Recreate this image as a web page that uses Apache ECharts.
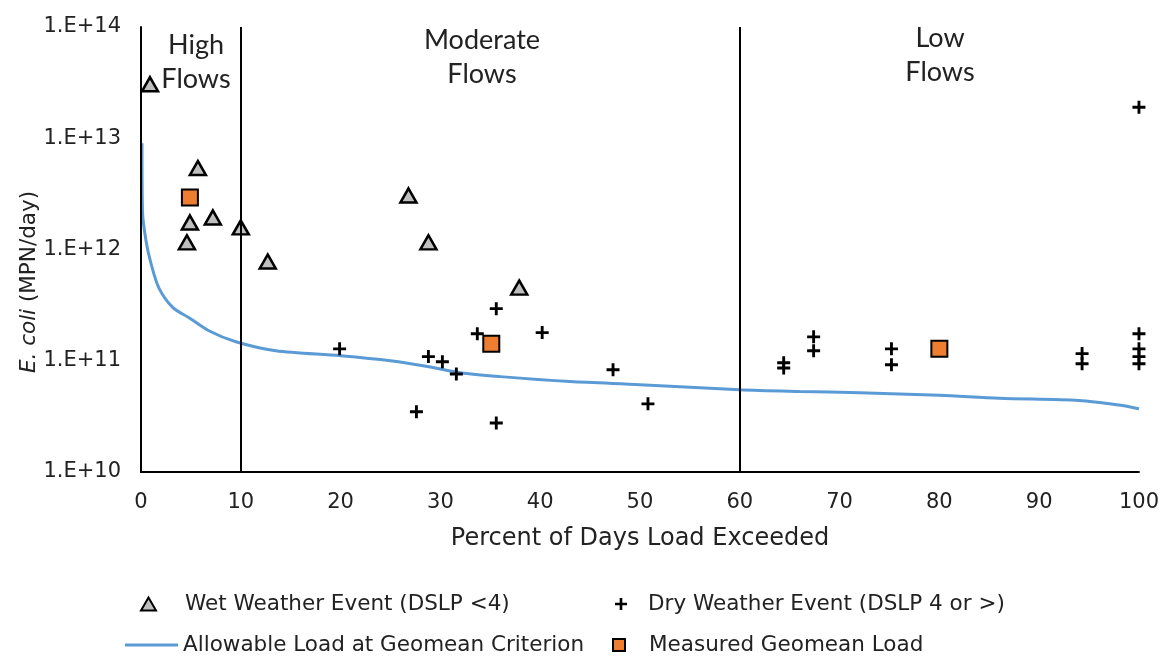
<!DOCTYPE html>
<html lang="en">
  <head>
    <meta charset="utf-8" />
    <title>E. coli load duration curve</title>
    <script src="https://cdn.jsdelivr.net/npm/echarts@6/dist/echarts.min.js"></script>
    <style>
      html, body { margin: 0; padding: 0; background: #fff; }
      #main { width: 1162px; height: 660px; }
    </style>
  </head>
  <body>
    <div id="main"></div>
  </body>
  <script>
    // percent of days exceeded / load in MPN per day
    const wetX = [0.9, 4.6, 4.9, 5.7, 7.2, 10.0, 12.7, 26.8, 28.8, 37.9];
    const wetY = [3.06e13, 1.16e12, 1.75e12, 5.4e12, 1.94e12, 1.58e12, 7.8e11, 3.06e12, 1.16e12, 4.55e11];

    const dryX = [19.9, 27.6, 28.8, 30.2, 31.6, 33.7, 35.6, 35.6, 40.2, 47.3, 50.8, 64.4, 64.4,
                  67.4, 67.4, 75.2, 75.2, 94.3, 94.3, 100, 100, 100, 100, 100];
    const dryY = [1.28e11, 3.48e10, 1.09e11, 9.8e10, 7.6e10, 1.75e11, 2.94e11, 2.76e10, 1.79e11, 8.3e10, 4.1e10, 9.6e10, 8.6e10,
                  1.64e11, 1.23e11, 1.28e11, 9.2e10, 1.16e11, 9.4e10, 1.9e13, 1.75e11, 1.28e11, 1.09e11, 9.4e10];

    const geoX = [4.9, 35.1, 80.0];
    const geoY = [2.94e12, 1.42e11, 1.28e11];

    const allowX = [0.1, 0.15, 0.5, 1.0, 1.8, 3.2, 4.8, 6.8, 9.5, 13.5, 20, 25, 29, 32, 36, 43, 50, 60, 66, 72, 80, 86, 94, 98, 100];
    const allowY = [9.0e12, 2.2e12, 1.2e12, 7.5e11, 4.5e11, 3.0e11, 2.44e11, 1.86e11, 1.48e11, 1.23e11, 1.11e11, 1.0e11, 8.8e10,
                    7.8e10, 7.2e10, 6.5e10, 6.1e10, 5.5e10, 5.3e10, 5.15e10, 4.9e10, 4.6e10, 4.4e10, 4.0e10, 3.7e10];

    const flowBreaks = [0, 10, 60];

    const pairs = (xs, ys) => xs.map((x, i) => [x, ys[i]]);
    const plusPath = 'path://M3.9,0H6.1V3.9H10V6.1H6.1V10H3.9V6.1H0V3.9H3.9Z';
    const axisFont = 'DejaVu Sans, Liberation Sans, sans-serif';
    const noteFont = 'Lato, Open Sans, sans-serif';
    const ink = '#222';

    const legendText = pad => ({
      fontFamily: axisFont, fontSize: 21.5, color: ink, lineHeight: 24, padding: [0, 0, 0, pad]
    });
    const note = (x, y, text) => ({
      type: 'text', x: x, y: y, silent: true,
      style: { text: text, fontFamily: noteFont, fontSize: 27, lineHeight: 34, fill: ink, align: 'center', verticalAlign: 'middle' }
    });

    let chart = echarts.init(document.getElementById('main'));

    let option = {
      animation: false,
      backgroundColor: '#fff',
      grid: { left: 141, right: 21, top: 27, bottom: 188 },
      xAxis: {
        type: 'value',
        min: 0, max: 100, interval: 10,
        name: 'Percent of Days Load Exceeded',
        nameLocation: 'middle',
        nameGap: 55,
        nameTextStyle: { fontFamily: axisFont, fontSize: 24, color: ink },
        axisLine: { show: true, lineStyle: { color: '#000', width: 2 } },
        axisTick: { show: false },
        splitLine: { show: false },
        axisLabel: { fontFamily: axisFont, fontSize: 21, color: ink, margin: 20 }
      },
      yAxis: {
        type: 'log',
        logBase: 10,
        min: 1e10, max: 1e14,
        axisLine: { show: true, lineStyle: { color: '#000', width: 2 } },
        axisTick: { show: false },
        splitLine: { show: false },
        axisLabel: {
          fontFamily: axisFont, fontSize: 21, color: ink, margin: 20,
          formatter: v => '1.E+' + Math.round(Math.log10(v))
        }
      },
      legend: [
        {
          left: 135, top: 587, itemWidth: 15, itemHeight: 13,
          textStyle: legendText(24),
          data: ['Wet Weather Event (DSLP <4)']
        },
        {
          left: 610, top: 587, itemWidth: 12, itemHeight: 12,
          textStyle: legendText(16),
          data: ['Dry Weather Event (DSLP 4 or >)']
        },
        {
          left: 120, top: 628, itemWidth: 53, itemHeight: 3,
          textStyle: legendText(0),
          data: [{ name: 'Allowable Load at Geomean Criterion', icon: 'rect' }]
        },
        {
          left: 607, top: 628, itemWidth: 12, itemHeight: 12,
          textStyle: legendText(19),
          data: ['Measured Geomean Load']
        }
      ],
      graphic: [
        note(196, 62, 'High\nFlows'),
        note(482, 57, 'Moderate\nFlows'),
        note(940, 55, 'Low\nFlows'),
        {
          type: 'text', x: 29, y: 282, rotation: Math.PI / 2, silent: true,
          style: {
            text: '{i|E. coli} (MPN/day)',
            fontFamily: axisFont, fontSize: 21.5, fill: ink, align: 'center', verticalAlign: 'middle',
            rich: { i: { fontStyle: 'italic', fontFamily: axisFont, fontSize: 21.5, fill: ink } }
          }
        }
      ],
      series: [
        {
          name: 'Allowable Load at Geomean Criterion',
          type: 'line',
          data: pairs(allowX, allowY),
          symbol: 'none',
          smooth: 0.3,
          z: 2,
          lineStyle: { color: '#5B9BD5', width: 3 },
          itemStyle: { color: '#5B9BD5' },
          markLine: {
            silent: true,
            symbol: 'none',
            label: { show: false },
            lineStyle: { color: '#000', width: 2, type: 'solid' },
            data: flowBreaks.map(x => ({ xAxis: x }))
          }
        },
        {
          name: 'Wet Weather Event (DSLP <4)',
          type: 'scatter',
          data: pairs(wetX, wetY),
          symbol: 'triangle',
          symbolSize: [16, 14],
          z: 4,
          itemStyle: { color: '#BFBFBF', borderColor: '#000', borderWidth: 2.5, opacity: 1 }
        },
        {
          name: 'Dry Weather Event (DSLP 4 or >)',
          type: 'scatter',
          data: pairs(dryX, dryY),
          symbol: plusPath,
          symbolSize: 13,
          z: 4,
          itemStyle: { color: '#000', opacity: 1 }
        },
        {
          name: 'Measured Geomean Load',
          type: 'scatter',
          data: pairs(geoX, geoY),
          symbol: 'rect',
          symbolSize: 16,
          z: 5,
          itemStyle: { color: '#ED7D31', borderColor: '#000', borderWidth: 2, opacity: 1 }
        }
      ]
    };
    chart.setOption(option);
  </script>
</html>
